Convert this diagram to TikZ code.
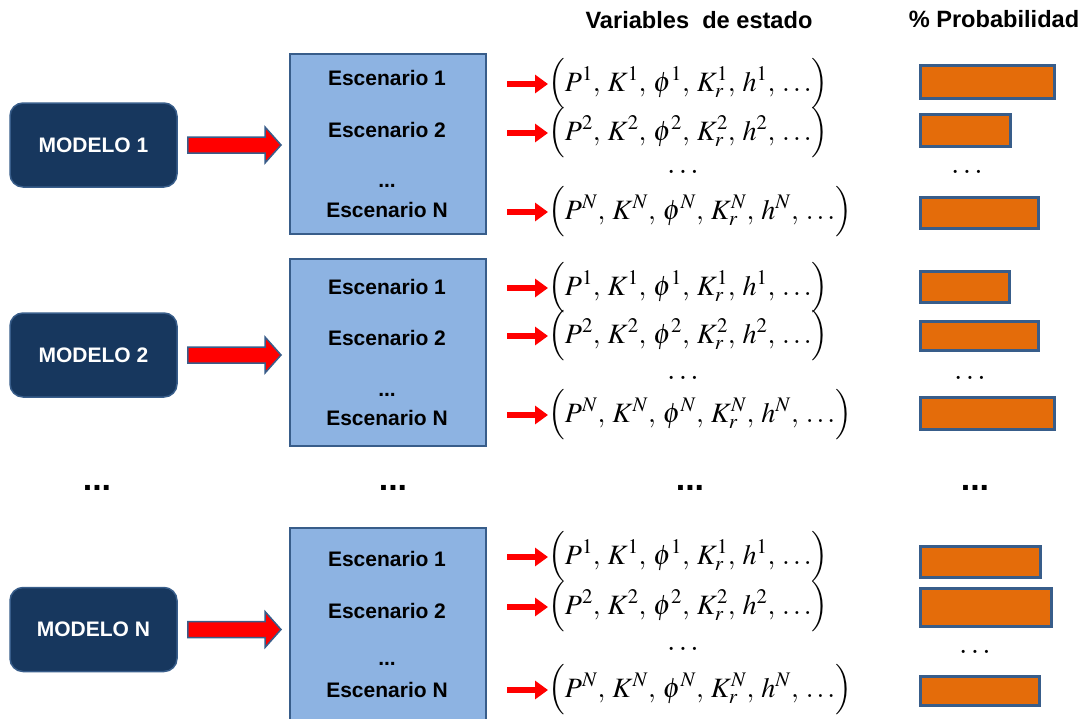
\documentclass[tikz,border=0pt]{standalone}
\usepackage{amsmath}
\usepackage{mathptmx}
\usepackage{fontspec}
\setmainfont{Liberation Sans}
\usetikzlibrary{calc, arrows.meta, positioning}

\definecolor{modelblue}{HTML}{17375E}
\definecolor{edgeblue}{HTML}{385D8A}
\definecolor{scenblue}{HTML}{8DB3E2}
\definecolor{barorange}{HTML}{E46C0A}

\newcommand{\vars}[1]{$\Bigl(P^{#1},\:K^{#1},\:\phi^{#1},\:K^{#1}_{r},\:h^{#1},\:\ldots\Bigr)$}
% flecha gruesa de un modelo a su caja de escenarios
\newcommand{\flecha}[2]{%
  \draw[bigarrow] let \p1=($(#1.east)+(10,0)$), \p2=(#2.west) in
    (\x1,{\y1+8pt}) -- ({\x2-24pt},{\y1+8pt}) -- ({\x2-24pt},{\y1+18pt})
    -- ({\x2-8pt},\y1) -- ({\x2-24pt},{\y1-18pt}) -- ({\x2-24pt},{\y1-8pt})
    -- (\x1,{\y1-8pt}) -- cycle;}

\tikzset{
  modelo/.style={draw=edgeblue, line width=1.5pt, fill=modelblue, rounded corners=13pt,
    minimum width=167pt, minimum height=84pt, text=white, font=\fontsize{21}{25}\selectfont\bfseries},
  escbox/.style={draw=edgeblue, line width=2pt, fill=scenblue, minimum width=196pt,
    anchor=north west, inner sep=0pt},
  esc/.style={font=\fontsize{21}{25}\selectfont\bfseries, inner sep=0pt},
  estado/.style={anchor=west, inner sep=0pt, font=\fontsize{28}{30}\selectfont},
  fdots/.style={inner sep=0pt, font=\fontsize{30}{34}\selectfont},
  barra/.style={draw=edgeblue, line width=3pt, fill=barorange},
  bigarrow/.style={draw=edgeblue, line width=1.5pt, fill=red},
  smallarrow/.style={red, line width=6.5pt, -{Triangle[length=13pt, width=18pt]}},
  header/.style={font=\fontsize{23.6}{28}\selectfont\bfseries},
  puntos/.style={font=\fontsize{34}{38}\selectfont\bfseries},
}

\begin{document}
\begin{tikzpicture}[x=1pt, y=-1pt]
  \clip (0,0) rectangle (1085,718);

  % cabeceras
  \node[header] (hv) at (699,20) {Variables\ \ de estado};
  \node[header] (hp) at (994,19) {\% Probabilidad};

  % modelos
  \node[modelo] (m1) at (93.5,145) {MODELO 1};
  \node[modelo] (m2) at (93.5,355) {MODELO 2};
  \node[modelo] (mN) at (93.5,629.5) {MODELO N};

  % cajas de escenarios
  \node[escbox, minimum height=180pt] (s1) at (289,53) {};
  \node[escbox, minimum height=187pt] (s2) at (289,258) {};
  \node[escbox, minimum height=200pt] (sN) at (289,527) {};

  \flecha{m1}{s1}
  \flecha{m2}{s2}
  \flecha{mN}{sN}

  % modelo 1
  \node[esc] (e11) at (387,78) {Escenario 1};
  \node[esc] (e12) at (387,130) {Escenario 2};
  \node[esc] (d1) at (387,186) {...};
  \node[esc] (e1N) at (387,210) {Escenario N};
  \node[estado] (f11) at (548,84) {\vars{1}};
  \node[estado] (f12) at (548,133) {\vars{2}};
  \node[fdots] (g1) at (683,172) {$\ldots$};
  \node[estado] (f1N) at (548,212) {\vars{N}};
  \draw[barra] (920,65) rectangle (1054,98);
  \draw[barra] (920,114) rectangle (1010,146);
  \node[fdots] (b1) at (967,172) {$\ldots$};
  \draw[barra] (920,197) rectangle (1038,228);

  % modelo 2
  \node[esc] (e21) at (387,287) {Escenario 1};
  \node[esc] (e22) at (387,338) {Escenario 2};
  \node[esc] (d2) at (387,395) {...};
  \node[esc] (e2N) at (387,418) {Escenario N};
  \node[estado] (f21) at (548,288) {\vars{1}};
  \node[estado] (f22) at (548,336) {\vars{2}};
  \node[fdots] (g2) at (683,378) {$\ldots$};
  \node[estado] (f2N) at (548,415) {\vars{N}};
  \draw[barra] (920,271) rectangle (1009,302);
  \draw[barra] (920,321) rectangle (1038,350);
  \node[fdots] (b2) at (970,378) {$\ldots$};
  \draw[barra] (920,397) rectangle (1054,429);

  % modelo N
  \node[esc] (eN1) at (387,559) {Escenario 1};
  \node[esc] (eN2) at (387,611) {Escenario 2};
  \node[esc] (dN) at (387,664) {...};
  \node[esc] (eNN) at (387,690) {Escenario N};
  \node[estado] (fN1) at (548,557) {\vars{1}};
  \node[estado] (fN2) at (548,607) {\vars{2}};
  \node[fdots] (gN) at (683,649) {$\ldots$};
  \node[estado] (fNN) at (548,690) {\vars{N}};
  \draw[barra] (920,546) rectangle (1040,577);
  \draw[barra] (920,588) rectangle (1051,626);
  \node[fdots] (bN) at (975,652) {$\ldots$};
  \draw[barra] (920,676) rectangle (1039,705);

  % flechas hacia las variables de estado
  \foreach \f in {f11,f12,f1N,f21,f22,f2N,fN1,fN2,fNN}
    \draw[smallarrow] ($(\f.west)+(-41,0)$) -- (\f.west);

  % fila intermedia
  \node[puntos] (x1) at (97,488) {...};
  \node[puntos] (x2) at (393,488) {...};
  \node[puntos] (x3) at (690,488) {...};
  \node[puntos] (x4) at (975,488) {...};
\end{tikzpicture}
\end{document}
